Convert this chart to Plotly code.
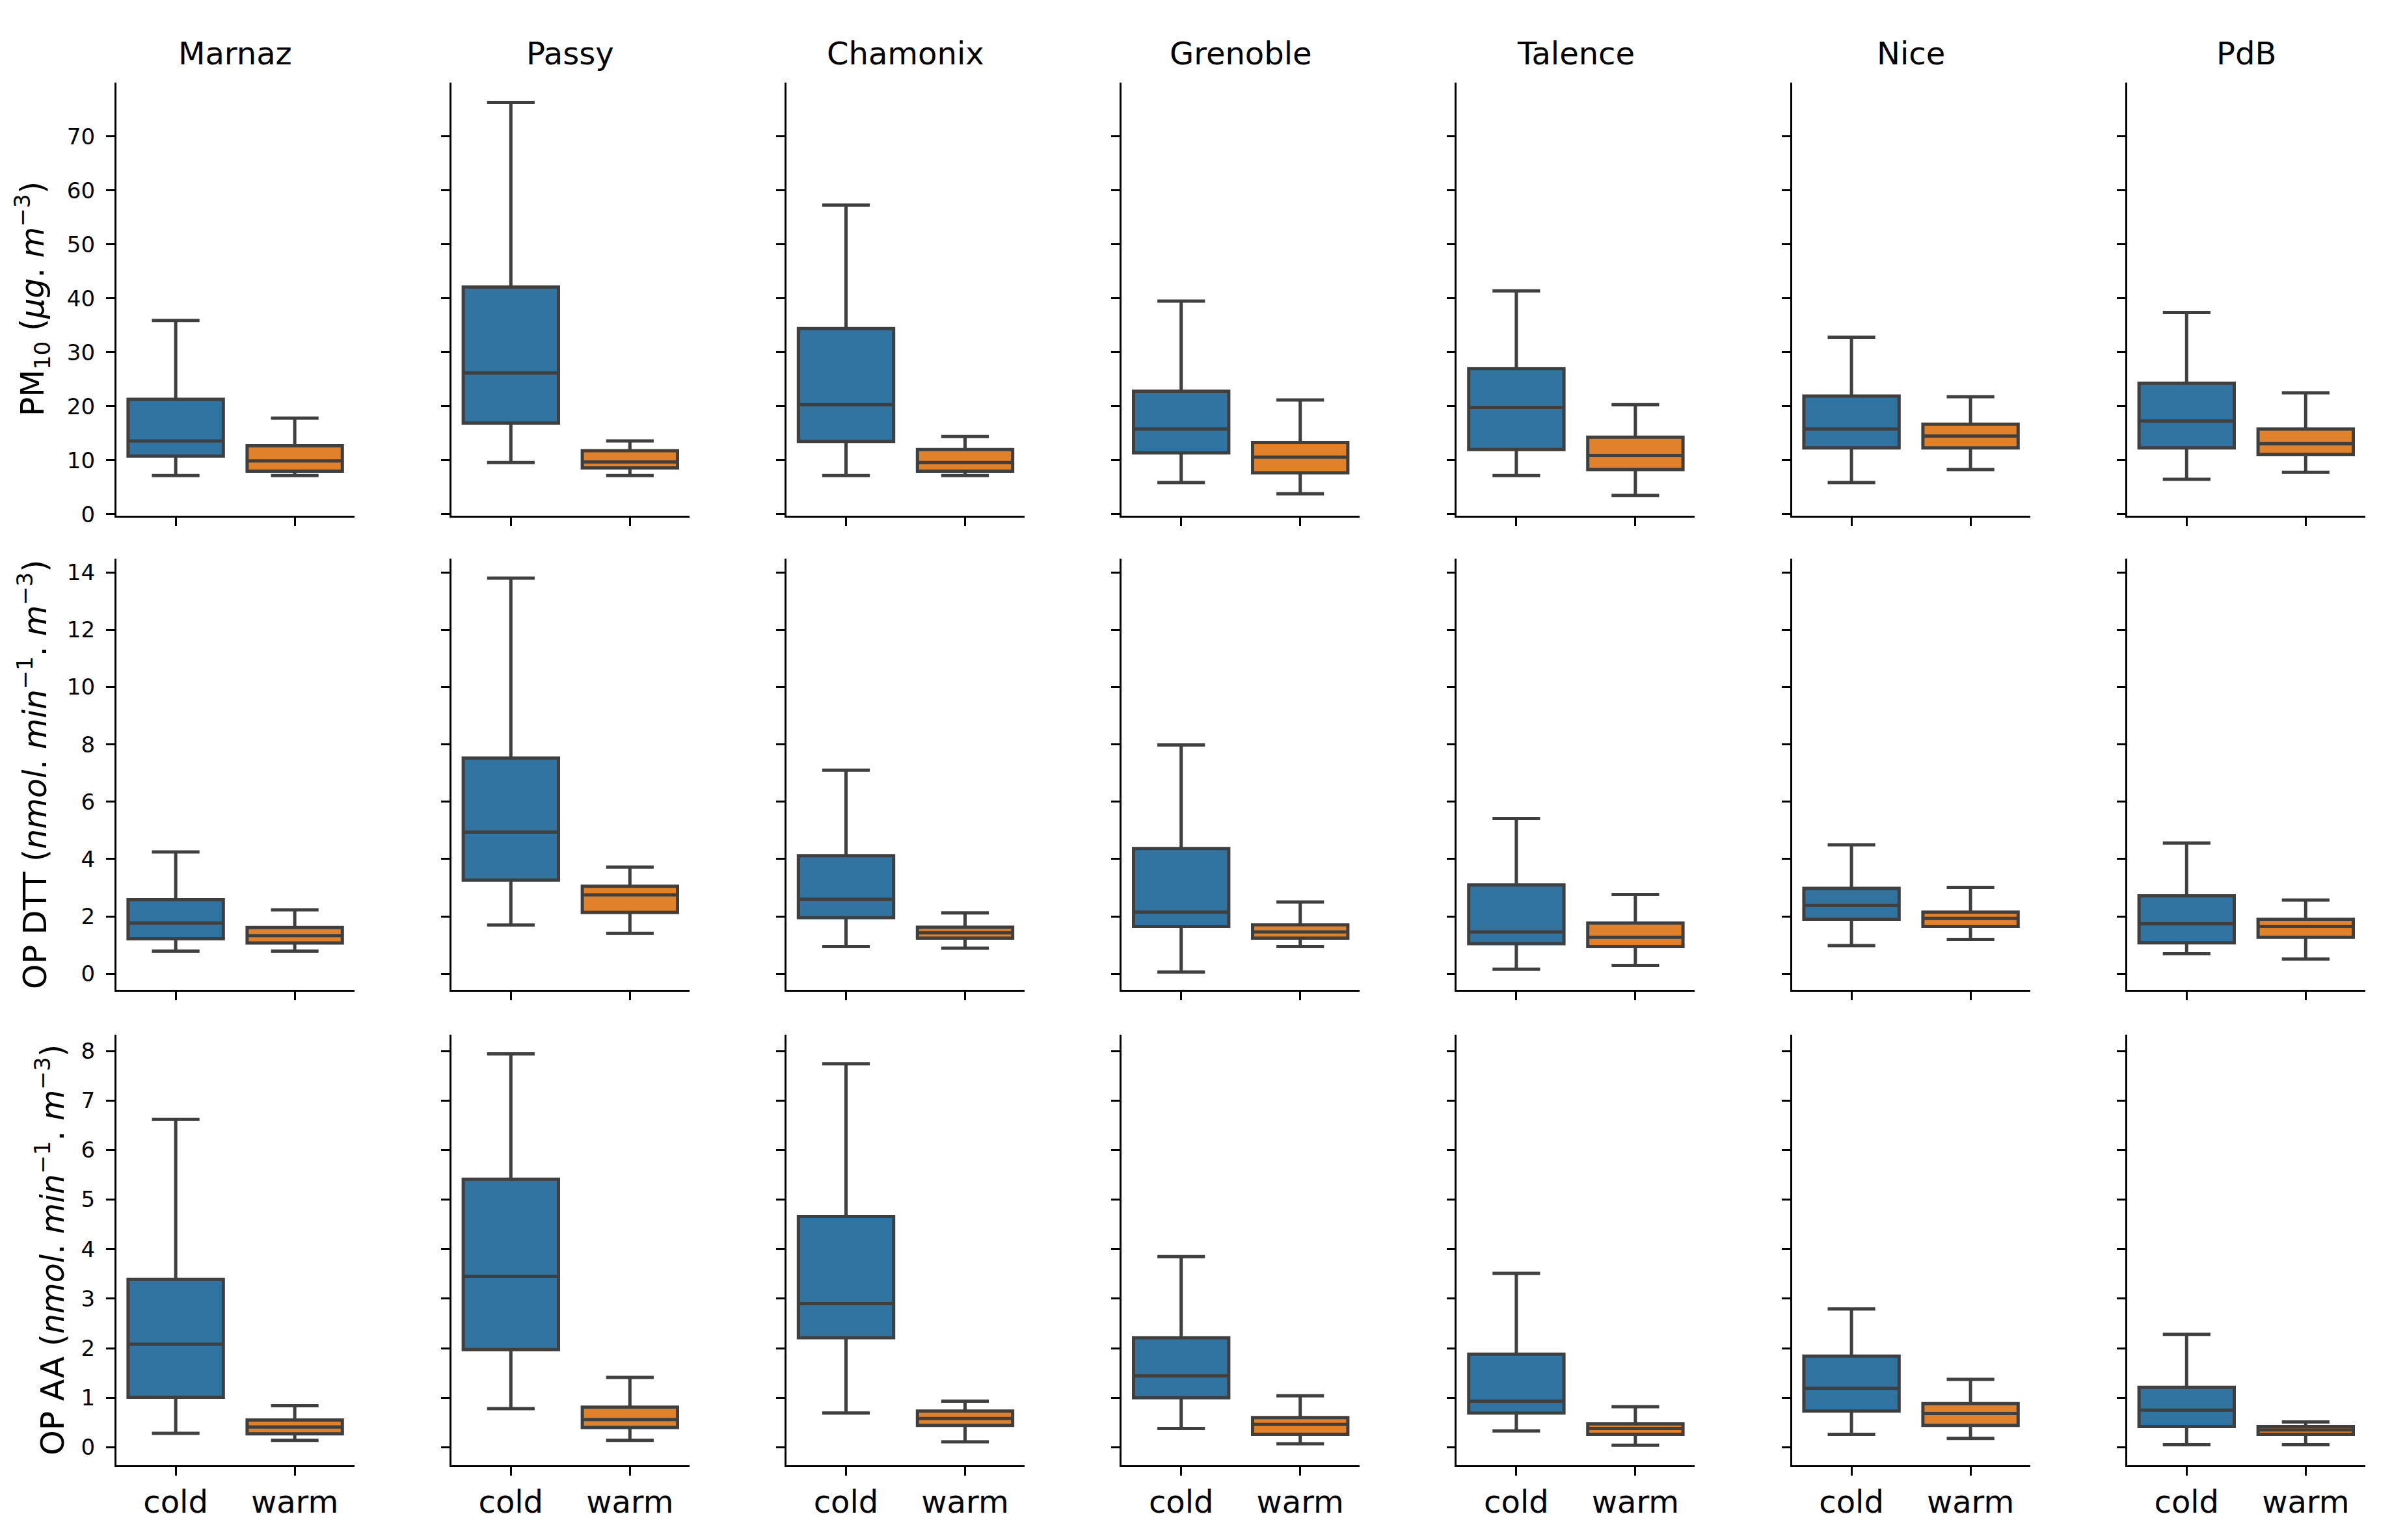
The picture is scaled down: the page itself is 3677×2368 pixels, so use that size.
import plotly.graph_objects as go

sites = ["Marnaz", "Passy", "Chamonix", "Grenoble", "Talence", "Nice", "PdB"]
seasons = ["cold", "warm"]

# (lower whisker, Q1, median, Q3, upper whisker) per site
pm10_cold = [(7.2, 10.8, 13.6, 21.3, 35.9), (9.6, 16.9, 26.2, 42.1, 76.3), (7.2, 13.5, 20.3, 34.4, 57.3),
             (5.9, 11.4, 15.8, 22.8, 39.5), (7.2, 12.0, 19.8, 27.0, 41.4), (5.9, 12.3, 15.8, 21.9, 32.8),
             (6.5, 12.3, 17.3, 24.3, 37.4)]
pm10_warm = [(7.2, 8.0, 9.9, 12.7, 17.8), (7.2, 8.6, 9.7, 11.8, 13.6), (7.2, 8.0, 9.6, 12.0, 14.4),
             (3.8, 7.7, 10.6, 13.3, 21.2), (3.5, 8.3, 10.9, 14.3, 20.3), (8.3, 12.3, 14.5, 16.7, 21.8),
             (7.8, 11.1, 13.1, 15.8, 22.5)]
dtt_cold = [(0.79, 1.22, 1.77, 2.58, 4.25), (1.70, 3.27, 4.94, 7.52, 13.8), (0.95, 1.96, 2.60, 4.12, 7.10),
            (0.06, 1.65, 2.15, 4.37, 7.98), (0.16, 1.05, 1.46, 3.10, 5.42), (0.98, 1.90, 2.38, 2.98, 4.50),
            (0.70, 1.08, 1.74, 2.72, 4.56)]
dtt_warm = [(0.79, 1.07, 1.33, 1.61, 2.23), (1.41, 2.14, 2.75, 3.05, 3.72), (0.89, 1.24, 1.43, 1.62, 2.12),
            (0.95, 1.24, 1.46, 1.71, 2.50), (0.29, 0.95, 1.27, 1.77, 2.76), (1.20, 1.65, 1.93, 2.15, 3.01),
            (0.51, 1.27, 1.65, 1.90, 2.57)]
aa_cold = [(0.28, 1.01, 2.08, 3.39, 6.62), (0.78, 1.97, 3.45, 5.41, 7.94), (0.69, 2.21, 2.90, 4.66, 7.74),
           (0.38, 1.00, 1.44, 2.21, 3.85), (0.33, 0.69, 0.93, 1.88, 3.51), (0.26, 0.73, 1.19, 1.84, 2.79),
           (0.05, 0.42, 0.75, 1.21, 2.28)]
aa_warm = [(0.14, 0.27, 0.41, 0.55, 0.84), (0.14, 0.40, 0.56, 0.81, 1.41), (0.11, 0.44, 0.58, 0.73, 0.93),
           (0.07, 0.26, 0.46, 0.60, 1.04), (0.04, 0.26, 0.38, 0.47, 0.82), (0.18, 0.44, 0.68, 0.88, 1.37),
           (0.05, 0.26, 0.35, 0.42, 0.51)]

row_data = [(pm10_cold, pm10_warm), (dtt_cold, dtt_warm), (aa_cold, aa_warm)]
row_ranges = [[-0.25, 79.95], [-0.57, 14.47], [-0.36, 8.33]]
row_dticks = [10, 2, 1]
row_titles = [
    "PM<sub>10</sub> (<i>μg</i>. <i>m</i><sup>−3</sup>)",
    "OP DTT (<i>nmol</i>. <i>min</i><sup>−1</sup>. <i>m</i><sup>−3</sup>)",
    "OP AA (<i>nmol</i>. <i>min</i><sup>−1</sup>. <i>m</i><sup>−3</sup>)",
]
season_colors = ["#3274a1", "#e1812c"]
edge = "#3f3f3f"

W, H = 3677, 2368
col_left0, col_step, col_w = 170.6, 515.2, 366.0
row_px = [(120, 791), (858, 1526), (1595, 2262)]
ytitle_x = [41, 43, 70]
FONT = "DejaVu Sans"

fig = go.Figure()
layout = dict(width=W, height=H, margin=dict(l=0, r=0, t=0, b=0),
              paper_bgcolor="white", plot_bgcolor="white", showlegend=False,
              font=dict(family=FONT, color="black"))
annotations = []

for r in range(3):
    top, bot = row_px[r]
    for c in range(7):
        k = r * 7 + c + 1
        xa = "x" if k == 1 else f"x{k}"
        ya = "y" if k == 1 else f"y{k}"
        left = col_left0 + col_step * c
        for s in range(2):
            lo, q1, med, q3, hi = row_data[r][s][c]
            fig.add_trace(go.Box(
                x=[seasons[s]], q1=[q1], median=[med], q3=[q3],
                lowerfence=[lo], upperfence=[hi],
                fillcolor=season_colors[s], line=dict(color=edge, width=5),
                width=0.8, whiskerwidth=0.5, boxpoints=False,
                hoverinfo="skip", xaxis=xa, yaxis=ya))
        layout["xaxis" if k == 1 else f"xaxis{k}"] = dict(
            domain=[left / W, (left + col_w) / W], anchor=ya,
            type="category", categoryorder="array", categoryarray=seasons,
            range=[-0.5, 1.5], showline=True, linecolor="black", linewidth=2.5,
            ticks="outside", ticklen=13, tickwidth=2.5, tickcolor="black",
            showgrid=False, zeroline=False, showticklabels=(r == 2),
            tickfont=dict(family=FONT, size=48, color="black"), fixedrange=True)
        layout["yaxis" if k == 1 else f"yaxis{k}"] = dict(
            domain=[1 - bot / H, 1 - top / H], anchor=xa,
            range=row_ranges[r], dtick=row_dticks[r], tick0=0,
            showline=True, linecolor="black", linewidth=2.5,
            ticks="outside", ticklen=13, tickwidth=2.5, tickcolor="black",
            showgrid=False, zeroline=False, showticklabels=(c == 0),
            ticklabelstandoff=10,
            tickfont=dict(family=FONT, size=34, color="black"), fixedrange=True)
        if r == 0:
            annotations.append(dict(
                text=sites[c], x=(left + col_w / 2) / W, y=1 - 105 / H,
                xref="paper", yref="paper", xanchor="center", yanchor="bottom",
                showarrow=False, font=dict(family=FONT, size=48, color="black")))
    annotations.append(dict(
        text=row_titles[r], x=ytitle_x[r] / W, y=1 - (top + bot) / 2 / H,
        xref="paper", yref="paper", xanchor="center", yanchor="middle",
        textangle=-90, showarrow=False, font=dict(family=FONT, size=49, color="black")))

layout["annotations"] = annotations
fig.update_layout(**layout)
fig.write_html("out.html")
